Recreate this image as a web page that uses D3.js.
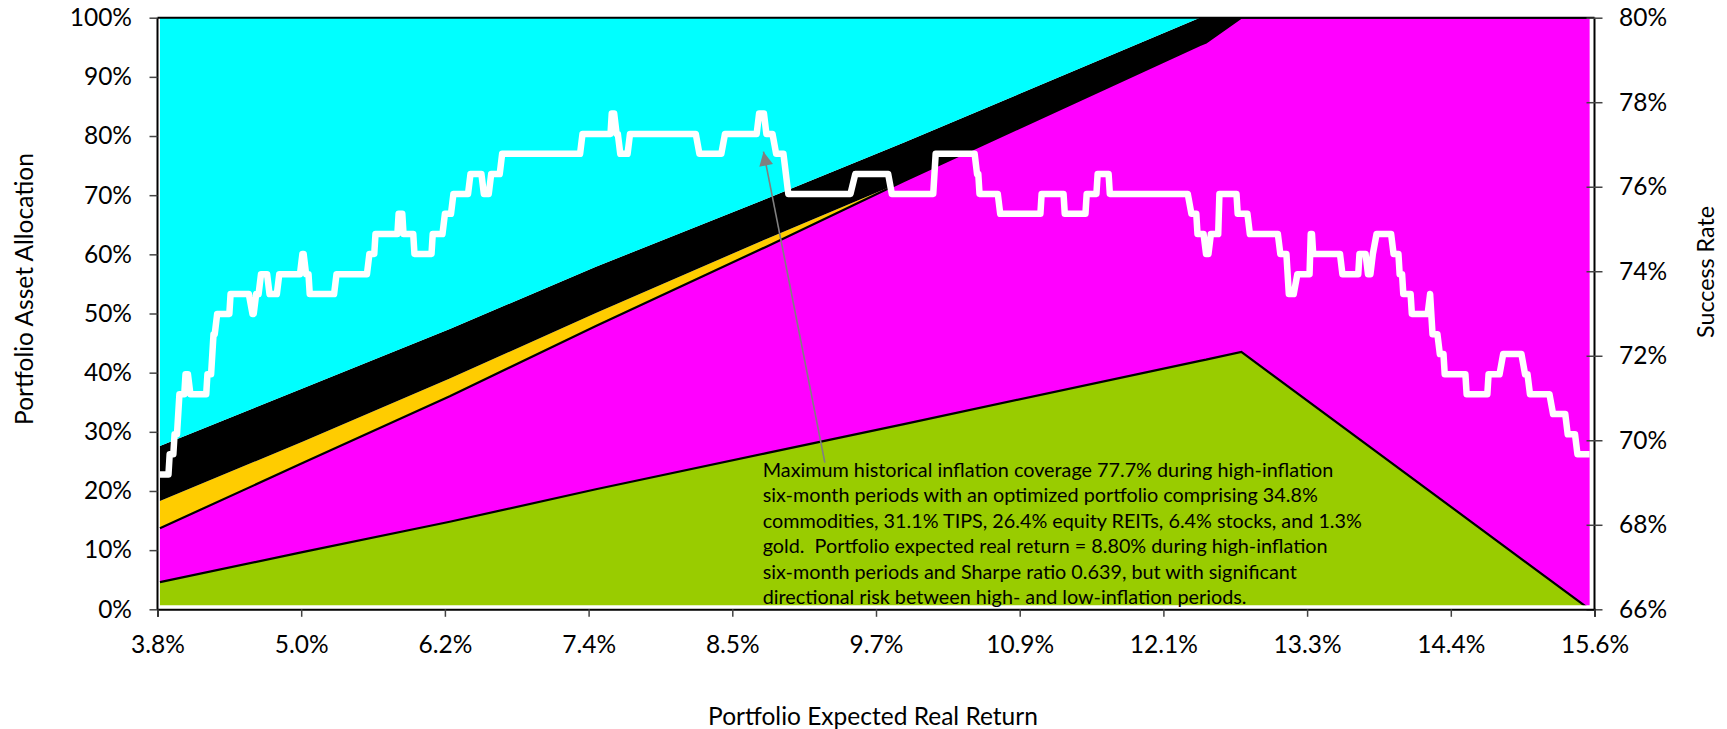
<!DOCTYPE html>
<html><head><meta charset="utf-8">
<script src="https://cdn.jsdelivr.net/npm/d3@7"></script>
<style>
html,body{margin:0;padding:0;background:#fff;}
svg{display:block;font-family:Lato,"Open Sans",sans-serif;}
</style></head><body>
<svg id="chart" width="1727" height="729"></svg>
<script>
// ---- Allocation layers (percent of portfolio) by portfolio expected real return (%) ----
const allocReturn = [3.82, 5.00, 6.20, 7.40, 8.80, 9.93, 12.36, 12.41, 12.70, 15.56];
const reits       = [4.6, 9.7, 14.8, 20.3, 26.4, 31.3, 42.0, 42.2, 43.5, 0];
const commodities = [9.1, 15.1, 21.2, 27.6, 34.9, 41.1, 53.4, 53.6, 56.5, 100];
const goldAlloc   = [4.6, 3.6, 3.0, 2.2, 1.3, 0, 0, 0, 0, 0];
const stocks      = [9.3, 9.0, 8.4, 7.8, 6.8, 6.5, 4.6, 4.2, 0, 0];
const tips        = [72.4, 62.6, 52.6, 42.1, 30.6, 21.1, 0, 0, 0, 0];

const layerKeys   = ["reits", "commodities", "gold", "stocks", "tips"];
const layerColors = ["#99CC00", "#FF00FF", "#FFCC00", "#000000", "#00FFFF"];

// ---- Success rate (right axis, %) ----
const successReturn = [3.82,3.89,3.90,3.93,3.94,3.96,3.98,4.02,4.03,4.05,4.07,4.20,4.21,4.24,4.26,4.27,4.29,4.39,4.40,4.55,
4.58,4.59,4.61,4.63,4.65,4.70,4.72,4.78,4.80,4.97,4.99,5.00,5.02,5.04,5.05,5.25,5.27,5.52,5.54,5.58,
5.59,5.77,5.78,5.81,5.82,5.90,5.91,6.05,6.06,6.14,6.16,6.21,6.23,6.35,6.37,6.46,6.48,6.52,6.54,6.61,
6.63,7.27,7.29,7.52,7.53,7.55,7.57,7.58,7.60,7.66,7.68,8.22,8.25,8.43,8.46,8.72,8.74,8.78,8.80,8.85,
8.88,8.94,8.98,9.49,9.53,9.80,9.83,10.17,10.19,10.51,10.53,10.54,10.55,10.70,10.72,11.05,11.06,11.24,11.25,11.42,
11.43,11.51,11.52,11.61,11.62,12.26,12.29,12.33,12.34,12.39,12.41,12.43,12.45,12.51,12.52,12.66,12.67,12.75,12.77,13.00,
13.02,13.07,13.09,13.13,13.16,13.26,13.27,13.28,13.29,13.51,13.53,13.66,13.67,13.72,13.74,13.76,13.78,13.81,13.93,13.95,
13.99,14.00,14.02,14.03,14.09,14.10,14.23,14.25,14.27,14.31,14.33,14.36,14.37,14.54,14.55,14.72,14.73,14.82,14.85,15.00,
15.03,15.05,15.07,15.23,15.26,15.36,15.38,15.44,15.46,15.56];
const successRate = [69.19,69.19,69.67,69.67,70.14,70.14,71.09,71.09,71.56,71.56,71.09,71.09,71.56,71.56,72.51,72.51,72.99,72.99,73.46,73.46,
72.99,72.99,73.46,73.46,73.93,73.93,73.46,73.46,73.93,73.93,74.41,74.41,73.93,73.93,73.46,73.46,73.93,73.93,74.41,74.41,
74.88,74.88,75.36,75.36,74.88,74.88,74.41,74.41,74.88,74.88,75.36,75.36,75.83,75.83,76.30,76.30,75.83,75.83,76.30,76.30,
76.78,76.78,77.25,77.25,77.73,77.73,77.25,77.25,76.78,76.78,77.25,77.25,76.78,76.78,77.25,77.25,77.73,77.73,77.25,77.25,
76.78,76.78,75.83,75.83,76.30,76.30,75.83,75.83,76.78,76.78,76.30,76.30,75.83,75.83,75.36,75.36,75.83,75.83,75.36,75.36,
75.83,75.83,76.30,76.30,75.83,75.83,75.36,75.36,74.88,74.88,74.41,74.41,74.88,74.88,75.83,75.83,75.36,75.36,74.88,74.88,
74.41,74.41,73.46,73.46,73.93,73.93,74.88,74.88,74.41,74.41,73.93,73.93,74.41,74.41,73.93,73.93,74.41,74.88,74.88,74.41,
74.41,73.93,73.93,73.46,73.46,72.99,72.99,73.46,72.51,72.51,72.04,72.04,71.56,71.56,71.09,71.09,71.56,71.56,72.04,72.04,
71.56,71.56,71.09,71.09,70.62,70.62,70.14,70.14,69.67,69.67];

// ---- Axis ticks ----
const xTickLabels = ["3.8%","5.0%","6.2%","7.4%","8.5%","9.7%","10.9%","12.1%","13.3%","14.4%","15.6%"];
const leftTicks  = [0,10,20,30,40,50,60,70,80,90,100];
const rightTicks = [66,68,70,72,74,76,78,80];

const annotationLines = [
  "Maximum historical inflation coverage 77.7% during high-inflation",
  "six-month periods with an optimized portfolio comprising 34.8%",
  "commodities, 31.1% TIPS, 26.4% equity REITs, 6.4% stocks, and 1.3%",
  "gold.  Portfolio expected real return = 8.80% during high-inflation",
  "six-month periods and Sharpe ratio 0.639, but with significant",
  "directional risk between high- and low-inflation periods."
];

// ---- Layout ----
const plot = {left: 157.5, right: 1594.5, top: 17.7, bottom: 609.3};
const svg = d3.select("#chart");

const x  = d3.scaleLinear().domain([3.8, 15.6]).range([plot.left, plot.right]);
const yL = d3.scaleLinear().domain([0, 100]).range([plot.bottom, plot.top]);
const yR = d3.scaleLinear().domain([66, 80]).range([plot.bottom, plot.top]);

// fit a text element's font size so that its width equals a target width
function fitWidth(sel, basePx, target) {
  sel.style("font-size", basePx + "px");
  const w = sel.node().getComputedTextLength();
  const px = w > 0 ? basePx * target / w : basePx;
  sel.style("font-size", px + "px");
  return px;
}

const table = allocReturn.map((r, i) => ({
  r, reits: reits[i], commodities: commodities[i], gold: goldAlloc[i], stocks: stocks[i], tips: tips[i]
}));
const series = d3.stack().keys(layerKeys)(table);

const defs = svg.append("defs");
defs.append("clipPath").attr("id", "plotclip")
  .append("rect").attr("x", plot.left).attr("y", plot.top)
  .attr("width", plot.right - plot.left).attr("height", plot.bottom - plot.top - 4);

const g = svg.append("g").attr("clip-path", "url(#plotclip)");
const area = d3.area().x(d => x(d.data.r)).y0(d => yL(d[0])).y1(d => yL(d[1]));
const topLine = d3.line().x(d => x(d.data.r)).y(d => yL(d[1]));

g.selectAll("path.layer").data(series).join("path")
  .attr("class", "layer").attr("d", area)
  .attr("fill", (d, i) => layerColors[i]);
g.selectAll("path.edge").data(series.slice(0, 2)).join("path")
  .attr("class", "edge").attr("d", topLine)
  .attr("fill", "none").attr("stroke", "#000").attr("stroke-width", 2.2);

// success rate line
const succ = successReturn.map((r, i) => ({r, s: successRate[i]}));
svg.append("path").datum(succ)
  .attr("d", d3.line().x(d => x(d.r)).y(d => yR(d.s)))
  .attr("fill", "none").attr("stroke", "#fff").attr("stroke-width", 6.5)
  .attr("stroke-linejoin", "round").attr("stroke-linecap", "butt");

// top border
svg.append("line").attr("x1", plot.left).attr("x2", plot.right).attr("y1", plot.top).attr("y2", plot.top)
  .attr("stroke", "#000").attr("stroke-width", 2);

// axes
const tickFont = "24.5px";
const axL = svg.append("g").attr("transform", `translate(${plot.left},0)`)
  .call(d3.axisLeft(yL).tickValues(leftTicks).tickFormat(d => d + "%").tickSize(8).tickPadding(17.5));
const axR = svg.append("g").attr("transform", `translate(${plot.right},0)`)
  .call(d3.axisRight(yR).tickValues(rightTicks).tickFormat(d => d + "%").tickSize(8).tickPadding(16.5));
axR.selectAll(".tick line").attr("x1", -8).attr("x2", 8);
const xTickVals = xTickLabels.map((_, i) => 3.8 + i * (15.6 - 3.8) / (xTickLabels.length - 1));
const axB = svg.append("g").attr("transform", `translate(0,${plot.bottom})`)
  .call(d3.axisBottom(x).tickValues(xTickVals).tickFormat((d, i) => xTickLabels[i]).tickSize(7.5));
axB.selectAll(".tick text").attr("dy", null).attr("y", 43.5);

[axL, axR, axB].forEach(a => {
  a.selectAll(".domain").attr("stroke", "#000").attr("stroke-width", 2);
  a.selectAll(".tick line").attr("stroke", "#444").attr("stroke-width", 1.5);
  a.selectAll(".tick text").attr("fill", "#000").style("font-size", tickFont)
    .style("font-family", "Lato, sans-serif");
});
axL.select(".domain").attr("d", `M0,${plot.bottom}V${plot.top}`);
axR.select(".domain").attr("d", `M0,${plot.bottom}V${plot.top}`);

// axis titles
const tL = svg.append("text").attr("transform", `translate(33,289) rotate(-90)`)
  .attr("text-anchor", "middle").attr("fill", "#000")
  .text("Portfolio Asset Allocation");
fitWidth(tL, 24, 272);
const tR = svg.append("text").attr("transform", `translate(1714,272) rotate(-90)`)
  .attr("text-anchor", "middle").attr("fill", "#000")
  .text("Success Rate");
fitWidth(tR, 24, 132);
const tB = svg.append("text").attr("x", 873).attr("y", 725)
  .attr("text-anchor", "middle").attr("fill", "#000")
  .text("Portfolio Expected Real Return");
fitWidth(tB, 24, 330);

// annotation arrow
defs.append("marker").attr("id", "arrow").attr("viewBox", "0 0 10 10")
  .attr("refX", 10).attr("refY", 5).attr("markerWidth", 16).attr("markerHeight", 14)
  .attr("markerUnits", "userSpaceOnUse").attr("orient", "auto")
  .append("path").attr("d", "M0,0L10,5L0,10Z").attr("fill", "#808080");
svg.append("line")
  .attr("x1", x(9.28)).attr("y1", yL(24.8))
  .attr("x2", x(8.776)).attr("y2", yR(76.83))
  .attr("stroke", "#808080").attr("stroke-width", 1.6)
  .attr("marker-end", "url(#arrow)");

// annotation text (font fitted so the first line spans the reference width)
const annX = x(8.77);
const probe = svg.append("text").style("white-space", "pre").text(annotationLines[0]);
const annPx = fitWidth(probe, 20, 571);
probe.remove();
const ann = svg.append("text").attr("x", annX).attr("y", yL(22.4))
  .style("font-size", annPx + "px").attr("fill", "#000")
  .style("white-space", "pre");
annotationLines.forEach((t, i) => {
  ann.append("tspan").attr("x", annX).attr("dy", i === 0 ? 0 : 25.5).text(t);
});
</script>
</body></html>
